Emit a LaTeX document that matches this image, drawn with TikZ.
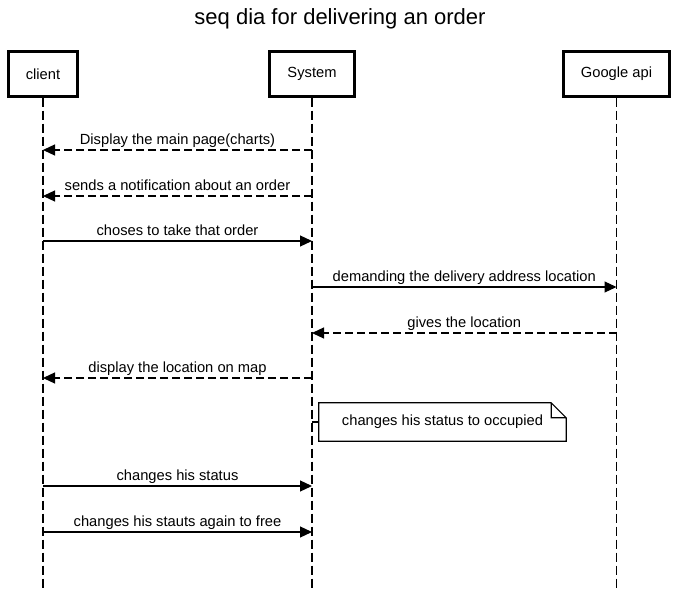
\documentclass[tikz,border=0pt]{standalone}
\usepackage{fontspec}
\setmainfont{Liberation Sans}
\usetikzlibrary{arrows.meta, positioning}

\tikzset{
    actor/.style={draw, line width=2.4pt, minimum height=45, font=\fontsize{14.7}{17}\selectfont},
    lifeline/.style={line width=1.3pt, dash pattern=on 9pt off 4pt},
    msg/.style={line width=1.2pt, -{Triangle[length=12pt,width=11pt]}},
    reply/.style={msg, dash pattern=on 8pt off 4pt},
    lbl/.style={font=\fontsize{14.7}{17}\selectfont, text height=10.5pt, text depth=3pt, above=1pt, inner sep=1pt}
}

\begin{document}
\begin{tikzpicture}[x=1pt, y=-1pt]
                        \useasboundingbox (0,0) rectangle (678,589);
                        \node[font=\fontsize{22}{26}\selectfont] (title) at (340,19) {seq dia for delivering an order};
                        \node[actor, minimum width=69] (client) at (43,74) {client};
                        \node[actor, minimum width=85] (system) at (312,74) {System};
                        \node[actor, minimum width=106] (google) at (616.5,74) {Google api};
                        \foreach \n in {client, system, google} {
                            \coordinate (\n-end) at (\n.south |- 0,589);
                            \draw[lifeline] (\n.south) -- (\n-end);
                        }
                        \foreach \i/\y in {1/150, 2/196, 3/241, 4/287, 5/333, 6/378, 7/422, 8/486, 9/532} {
                            \coordinate (c-\i) at (client.south |- 0,\y);
                            \coordinate (s-\i) at (system.south |- 0,\y);
                            \coordinate (g-\i) at (google.south |- 0,\y);
                        }
                        \node[font=\fontsize{14.7}{17}\selectfont, minimum width=247, minimum height=38, inner sep=0pt] (note) at (442.5,422) {changes his status to occupied};
                        \draw[line width=1.2pt]
                        (note.north west) -- ([xshift=-15]note.north east) -- ([yshift=-15]note.north east) -- (note.south east) -- (note.south west) -- cycle
                        ([xshift=-15]note.north east) -- ([xshift=-15, yshift=-15]note.north east) -- ([yshift=-15]note.north east);
                        \draw[line width=1.2pt] (s-7) -- (note.west);

                        \draw[reply] (s-1) -- node[lbl] {Display the main page(charts)} (c-1);
                        \draw[reply] (s-2) -- node[lbl] {sends a notification about an order} (c-2);
                        \draw[msg] (c-3) -- node[lbl] {choses to take that order} (s-3);
                        \draw[msg] (s-4) -- node[lbl] {demanding the delivery address location} (g-4);
                        \draw[reply] (g-5) -- node[lbl] {gives the location} (s-5);
                        \draw[reply] (s-6) -- node[lbl] {display the location on map} (c-6);
                        \draw[msg] (c-8) -- node[lbl] {changes his status} (s-8);
                        \draw[msg] (c-9) -- node[lbl] {changes his stauts again to free} (s-9);
                    \end{tikzpicture}
\end{document}
